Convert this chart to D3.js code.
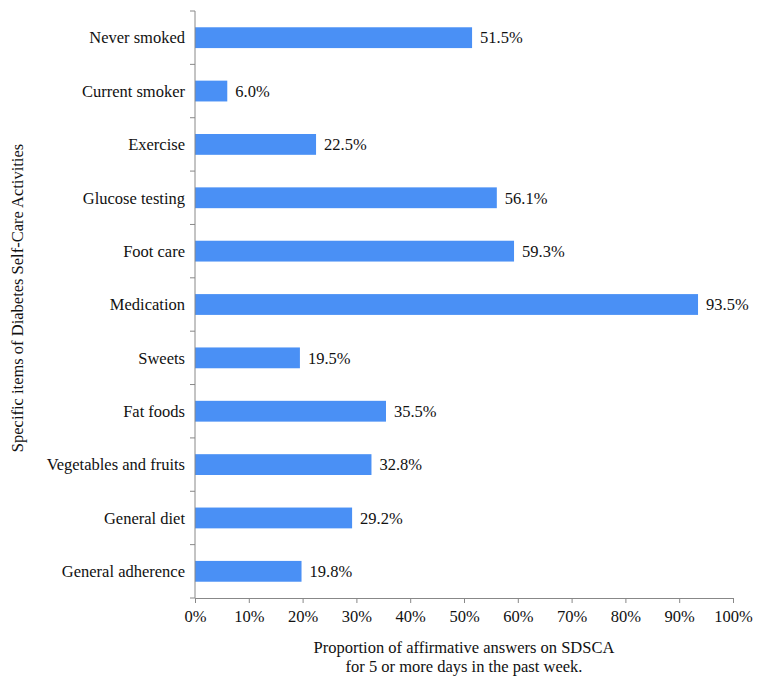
<!DOCTYPE html>
<html lang="en">
<head>
<title>Diabetes self-care activities</title>
<script src="https://cdn.jsdelivr.net/npm/d3@7"></script>
<style>
body { margin: 0; background: #fff; }
text { font-family: "Liberation Serif", "Times New Roman", serif; fill: #111; }
</style>
</head>
<body>
<script>
// categories top to bottom
var items = ["Never smoked", "Current smoker", "Exercise", "Glucose testing", "Foot care",
  "Medication", "Sweets", "Fat foods", "Vegetables and fruits", "General diet", "General adherence"];
var percents = [51.5, 6.0, 22.5, 56.1, 59.3, 93.5, 19.5, 35.5, 32.8, 29.2, 19.8];
var xTicks = [0, 10, 20, 30, 40, 50, 60, 70, 80, 90, 100];

var W = 760, H = 686;
var pLeft = 195, pRight = 733, pTop = 11, pBottom = 598;
var fs = "16.5px";

var svg = d3.select("body").append("svg").attr("width", W).attr("height", H);

var x = d3.scaleLinear().domain([0, 100]).range([pLeft, pRight]);
var y = d3.scaleBand().domain(items).range([pTop, pBottom]).paddingInner(0.61).paddingOuter(0.305);
var yb = d3.scaleBand().domain(items).range([pTop, pBottom]);

// bars
svg.selectAll("rect.bar").data(items).enter().append("rect")
  .attr("class", "bar")
  .attr("x", x(0))
  .attr("y", function(d) { return y(d); })
  .attr("width", function(d, i) { return x(percents[i]) - x(0); })
  .attr("height", y.bandwidth())
  .attr("fill", "#4a90f5");

// value labels
svg.selectAll("text.val").data(items).enter().append("text")
  .attr("class", "val")
  .attr("x", function(d, i) { return x(percents[i]) + 8; })
  .attr("y", function(d) { return y(d) + y.bandwidth() / 2; })
  .attr("dy", "0.35em")
  .style("font-size", fs)
  .text(function(d, i) { return percents[i].toFixed(1) + "%"; });

// x axis
var xAxis = svg.append("g").attr("transform", "translate(0," + pBottom + ")")
  .call(d3.axisBottom(x).tickValues(xTicks).tickSize(5).tickSizeOuter(0)
    .tickFormat(function(d) { return d + "%"; }));
xAxis.select(".domain").attr("stroke", "#888");
xAxis.selectAll(".tick line").attr("stroke", "#888");
xAxis.selectAll(".tick text").attr("y", 12).style("font-size", fs).attr("fill", "#111")
  .style("font-family", "'Liberation Serif', serif");

// y axis: ticks between categories
var yg = svg.append("g");
yg.append("line").attr("x1", pLeft).attr("x2", pLeft).attr("y1", pTop).attr("y2", pBottom)
  .attr("stroke", "#888");
var bounds = items.map(function(d) { return yb(d); }).concat([pBottom]);
yg.selectAll("line.tk").data(bounds).enter().append("line")
  .attr("class", "tk")
  .attr("x1", pLeft - 5).attr("x2", pLeft)
  .attr("y1", function(d) { return d; }).attr("y2", function(d) { return d; })
  .attr("stroke", "#888");
yg.selectAll("text.cat").data(items).enter().append("text")
  .attr("class", "cat")
  .attr("x", pLeft - 10)
  .attr("y", function(d) { return y(d) + y.bandwidth() / 2; })
  .attr("dy", "0.35em")
  .attr("text-anchor", "end")
  .style("font-size", fs)
  .text(function(d) { return d; });

// axis titles
var xt = svg.append("text").attr("text-anchor", "middle").style("font-size", fs);
xt.append("tspan").attr("x", (pLeft + pRight) / 2).attr("y", 653)
  .text("Proportion of affirmative answers on SDSCA");
xt.append("tspan").attr("x", (pLeft + pRight) / 2).attr("y", 672)
  .text("for 5 or more days in the past week.");

svg.append("text")
  .attr("transform", "translate(23,298) rotate(-90)")
  .attr("text-anchor", "middle")
  .style("font-size", fs)
  .text("Specific items of Diabetes Self-Care Activities");
</script>
</body>
</html>
